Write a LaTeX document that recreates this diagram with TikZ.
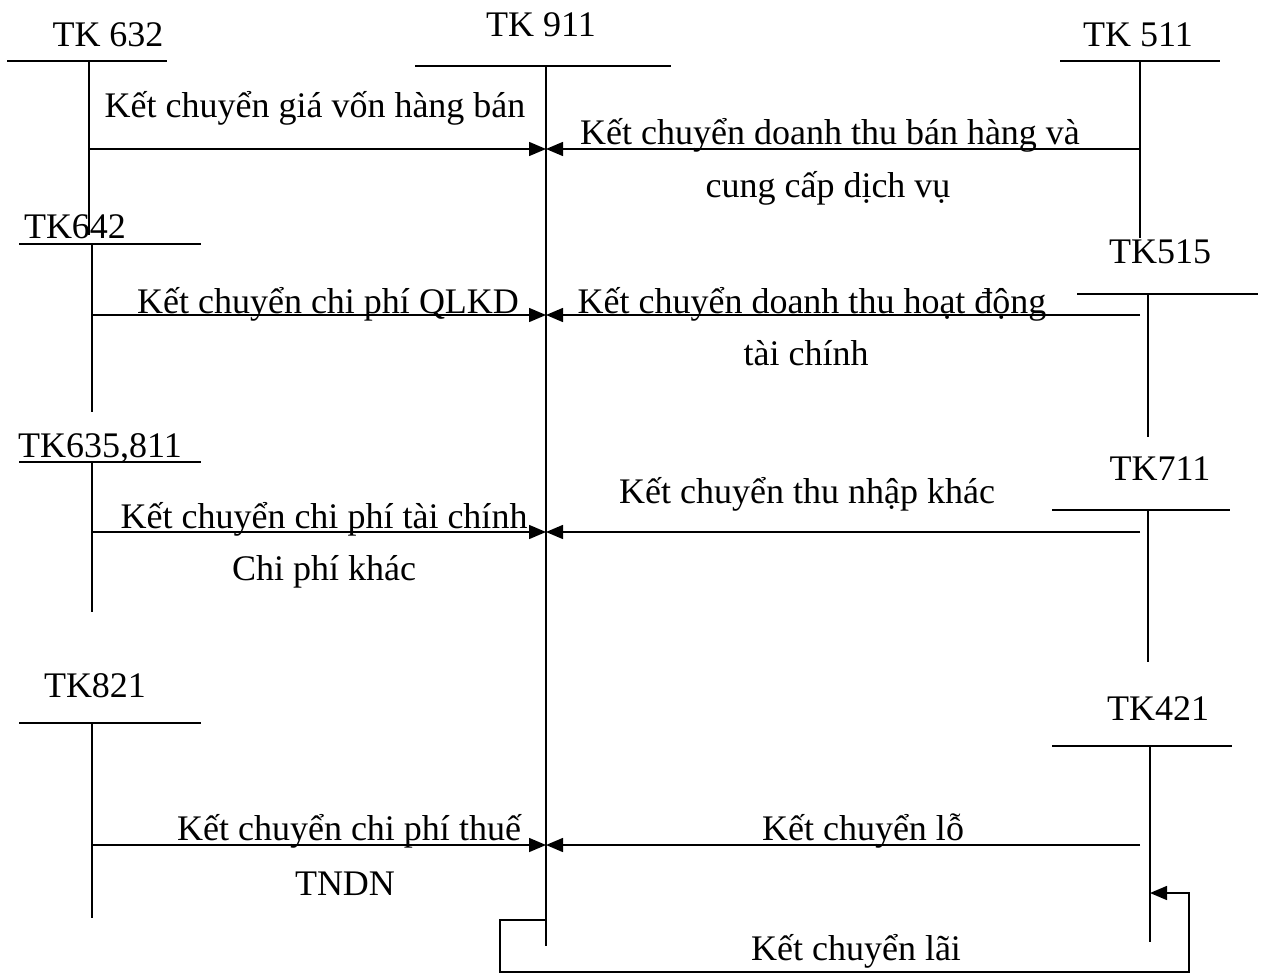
\documentclass[tikz,border=0pt]{standalone}
\usepackage{fontspec}
\setmainfont{Liberation Serif}
\usetikzlibrary{arrows.meta}
\begin{document}
\begin{tikzpicture}[x=1pt,y=-1pt,
  every node/.style={inner sep=0pt, anchor=base, font=\fontsize{36}{42}\selectfont},
  acct/.style={line width=1.5pt},
  flow/.style={line width=1.5pt,-{Triangle[length=17pt,width=14pt]}},
  lbl/.style={}]
\useasboundingbox (0,0) rectangle (1263,976);
% T accounts
\node (t632) at (108,47) {TK 632};
\draw[acct] (7,61) -- (167,61) (89,61) -- (89,235);
\coordinate (s632) at (89,149);
\node (t911) at (541,37) {TK 911};
\draw[acct] (415,66) -- (671,66);
\coordinate (top911) at (546,66);
\coordinate (bot911) at (546,946);
\draw[acct] (top911) -- (bot911);
\node (t511) at (1138,47) {TK 511};
\draw[acct] (1060,61) -- (1220,61) (1140,61) -- (1140,238);
\coordinate (s511) at (1140,149);
\node (t642) at (75,239) {TK642};
\draw[acct] (19,244) -- (201,244) (92,244) -- (92,412);
\coordinate (s642) at (92,315);
\node (t515) at (1160,264) {TK515};
\draw[acct] (1077,294) -- (1258,294) (1148,294) -- (1148,437);
\coordinate (s515) at (1140,315);
\node (t635) at (100,457) {TK635,811};
\draw[acct] (19,462) -- (201,462) (92,462) -- (92,612);
\coordinate (s635) at (92,532);
\node (t711) at (1160,480) {TK711};
\draw[acct] (1052,510) -- (1230,510) (1148,510) -- (1148,662);
\coordinate (s711) at (1140,532);
\node (t821) at (95,697) {TK821};
\draw[acct] (19,723) -- (201,723) (92,723) -- (92,918);
\coordinate (s821) at (92,845);
\node (t421) at (1158,720) {TK421};
\draw[acct] (1052,746) -- (1232,746) (1150,746) -- (1150,942);
\coordinate (s421) at (1140,845);
\coordinate (e421) at (1150,893);
% targets on 911
\coordinate (a1) at (546,149);
\coordinate (a2) at (546,315);
\coordinate (a3) at (546,532);
\coordinate (a4) at (546,845);
\coordinate (l911) at (546,920);
% flows
\draw[flow] (s632) -- (a1);
\draw[flow] (s511) -- (a1);
\draw[flow] (s642) -- (a2);
\draw[flow] (s515) -- (a2);
\draw[flow] (s635) -- (a3);
\draw[flow] (s711) -- (a3);
\draw[flow] (s821) -- (a4);
\draw[flow] (s421) -- (a4);
\draw[flow] (l911) -| (500,972) -| (1189,893) -- (e421);
% labels
\node (k1) at (315,118) {Kết chuyển giá vốn hàng bán};
\node (k2) at (830,145) {Kết chuyển doanh thu bán hàng và};
\node (k2b) at (828,198) {cung cấp dịch vụ};
\node (k3) at (328,313) {Kết chuyển chi phí QLKD};
\node (k4) at (812,313) {Kết chuyển doanh thu hoạt động};
\node (k4b) at (806,365) {tài chính};
\node (k5) at (324,528) {Kết chuyển chi phí tài chính};
\node (k5b) at (324,580) {Chi phí khác};
\node (k6) at (807,503) {Kết chuyển thu nhập khác};
\node (k7) at (349,840) {Kết chuyển chi phí thuế};
\node (k7b) at (345,895) {TNDN};
\node (k8) at (863,840) {Kết chuyển lỗ};
\node (k9) at (856,960) {Kết chuyển lãi};
\end{tikzpicture}
\end{document}
